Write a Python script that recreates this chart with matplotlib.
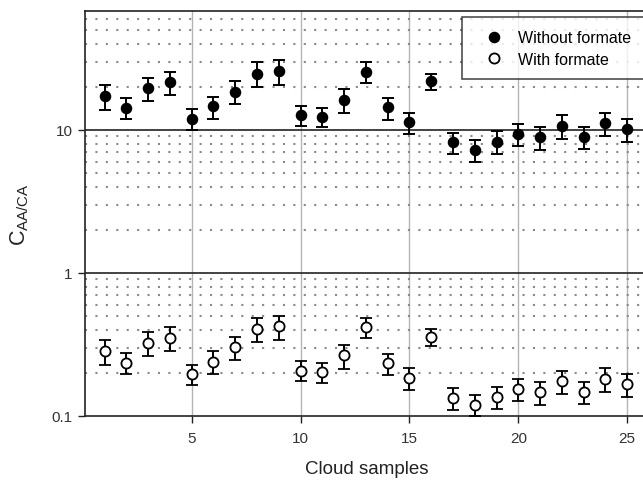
import matplotlib
matplotlib.use("Agg")
import matplotlib.pyplot as plt
from matplotlib.lines import Line2D
from matplotlib.ticker import LogLocator, NullFormatter, FixedLocator, FixedFormatter

plt.rcParams['font.family'] = ['Liberation Sans', 'DejaVu Sans']
plt.rcParams['mathtext.fontset'] = 'custom'
plt.rcParams['mathtext.rm'] = 'Liberation Sans'
plt.rcParams['mathtext.it'] = 'Liberation Sans'

samples = list(range(1, 26))

# without formate: value, lower end, upper end
without_val = [17.2, 14.3, 19.7, 21.6, 12.0, 14.6, 18.5, 24.8, 25.7, 12.8, 12.3, 16.2, 25.6,
               14.4, 11.3, 22.1, 8.24, 7.21, 8.24, 9.42, 8.89, 10.7, 8.98, 11.1, 10.2]
without_lo = [13.9, 12.0, 15.9, 17.5, 10.0, 12.0, 15.1, 20.0, 20.7, 10.7, 10.5, 13.1, 21.4,
              11.8, 9.4, 19.1, 6.79, 5.94, 6.79, 7.69, 7.25, 8.7, 7.36, 9.08, 8.28]
without_hi = [20.5, 16.7, 23.2, 25.4, 14.0, 17.1, 22.0, 29.7, 30.9, 14.8, 14.3, 19.3, 29.7,
              16.7, 13.2, 24.8, 9.57, 8.47, 9.79, 11.0, 10.5, 12.7, 10.5, 13.1, 11.9]

# with formate
with_val = [0.283, 0.235, 0.321, 0.347, 0.197, 0.239, 0.301, 0.406, 0.424, 0.206, 0.201, 0.264, 0.417,
            0.234, 0.184, 0.358, 0.134, 0.118, 0.135, 0.154, 0.146, 0.176, 0.147, 0.181, 0.166]
with_lo = [0.226, 0.196, 0.263, 0.285, 0.163, 0.195, 0.246, 0.326, 0.340, 0.176, 0.170, 0.212, 0.351,
           0.193, 0.152, 0.309, 0.110, 0.100, 0.111, 0.127, 0.118, 0.142, 0.121, 0.147, 0.136]
with_hi = [0.340, 0.274, 0.383, 0.417, 0.225, 0.283, 0.355, 0.482, 0.500, 0.240, 0.232, 0.314, 0.482,
           0.272, 0.216, 0.406, 0.156, 0.139, 0.158, 0.181, 0.172, 0.206, 0.172, 0.214, 0.195]

fig = plt.figure(figsize=(6.43, 4.81), dpi=100)
ax = fig.add_axes([0.1322, 0.1337, 0.877, 0.8413])
ax.set_yscale('log')
ax.set_xlim(0.1, 26)
ax.set_ylim(0.1, 68)

# grid
for x in [5, 10, 15, 20, 25]:
    ax.axvline(x, color='#b4b4b4', lw=1.0, zorder=0)
for y in [1, 10]:
    ax.axhline(y, color='#222222', lw=1.2, zorder=1)
ax.yaxis.set_minor_locator(LogLocator(base=10, subs=range(2, 10)))
ax.yaxis.set_minor_formatter(NullFormatter())
ax.grid(which='minor', axis='y', color='#8a8a8a', lw=1.5, linestyle=(0, (1, 4)), zorder=0)

def errs(val, lo, hi):
    return [[v - l for v, l in zip(val, lo)], [h - v for v, h in zip(val, hi)]]

ax.errorbar(samples, without_val, yerr=errs(without_val, without_lo, without_hi), fmt='o',
            color='black', ms=7.3, elinewidth=1.4, capsize=4.6, capthick=1.4, zorder=3)
ax.errorbar(samples, with_val, yerr=errs(with_val, with_lo, with_hi), fmt='o',
            color='black', mfc='white', mec='black', mew=1.3, ms=7.3, elinewidth=1.4,
            capsize=4.6, capthick=1.4, zorder=3)

ax.yaxis.set_major_locator(FixedLocator([0.1, 1, 10]))
ax.yaxis.set_major_formatter(FixedFormatter(['0.1', '1', '10']))
ax.set_xticks([5, 10, 15, 20, 25])
ax.tick_params(axis='both', which='major', labelsize=11, colors='#222222', labelcolor='#333333',
               length=5, width=1.0, direction='out')
ax.tick_params(axis='y', which='minor', length=0)
ax.tick_params(axis='x', pad=6)
ax.tick_params(axis='y', pad=4)

for side in ['left', 'bottom', 'top']:
    ax.spines[side].set_linewidth(1.2)
    ax.spines[side].set_color('#222222')
ax.spines['right'].set_visible(False)

ax.set_xlabel('Cloud samples', fontsize=13.5, color='#222222', labelpad=11)
ax.set_ylabel(r'$\mathregular{C_{AA/CA}}$', fontsize=15.5, color='#222222', labelpad=15)

handles = [Line2D([], [], marker='o', ls='none', color='black', ms=7.3),
           Line2D([], [], marker='o', ls='none', color='black', mfc='white', mew=1.3, ms=7.3)]
leg = ax.legend(handles, ['Without formate', 'With formate'], loc='upper left',
                bbox_to_anchor=(0.669, 0.9844), fontsize=11.5, frameon=True, fancybox=False,
                edgecolor='#222222', borderpad=0.8, handletextpad=0.34, labelspacing=0.4,
                handlelength=2.35, borderaxespad=0)
leg.get_frame().set_linewidth(1.2)
leg.set_zorder(5)

fig.savefig('out.png', dpi=100)
